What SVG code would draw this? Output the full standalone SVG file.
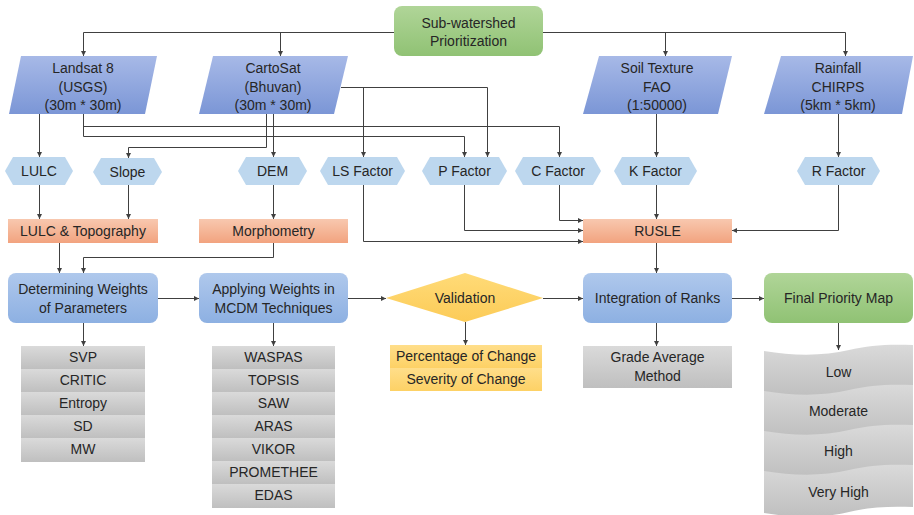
<svg xmlns="http://www.w3.org/2000/svg" width="914" height="515" viewBox="0 0 914 515">
<style>
text{font-family:"Liberation Sans",Arial,sans-serif;font-size:14px;fill:#262626;text-anchor:middle}
.ln{fill:none;stroke:#404040;stroke-width:1}
.hex{fill:#BDD7EE}
</style>
<defs>
<linearGradient id="gPara" x1="0" y1="0" x2="0" y2="1"><stop offset="0" stop-color="#A7B9E7"/><stop offset="1" stop-color="#7B96D6"/></linearGradient>
<linearGradient id="gBlue" x1="0" y1="0" x2="0" y2="1"><stop offset="0" stop-color="#AFC8EC"/><stop offset="1" stop-color="#8DB0E2"/></linearGradient>
<linearGradient id="gGreen" x1="0" y1="0" x2="0" y2="1"><stop offset="0" stop-color="#B0D598"/><stop offset="1" stop-color="#90C274"/></linearGradient>
<linearGradient id="gOrange" x1="0" y1="0" x2="0" y2="1"><stop offset="0" stop-color="#F8C8AF"/><stop offset="1" stop-color="#F2A37F"/></linearGradient>
<linearGradient id="gGray" x1="0" y1="0" x2="0" y2="1"><stop offset="0" stop-color="#DADADA"/><stop offset="1" stop-color="#BFBFBF"/></linearGradient>
<linearGradient id="gYellow" x1="0" y1="0" x2="0" y2="1"><stop offset="0" stop-color="#FFDE8A"/><stop offset="1" stop-color="#FDD165"/></linearGradient>
<linearGradient id="gDia" x1="0" y1="0" x2="0" y2="1"><stop offset="0" stop-color="#FFDB78"/><stop offset="1" stop-color="#FCCB57"/></linearGradient>
<marker id="ah" viewBox="0 0 6 6" refX="6" refY="3" markerWidth="5" markerHeight="5" orient="auto" markerUnits="userSpaceOnUse"><path d="M0,0 L6,3 L0,6 z" fill="#404040"/></marker>
<path id="band" d="M0,6 C30,11 60,11 85,5 C105,0 125,-1 149,0 L149,42 C125,41 105,42 85,47 C60,53 30,53 0,48 Z"/>
</defs>

<g id="connectors">
<path class="ln" d="M394,32.5 H83.5 V56" marker-end="url(#ah)"/>
<path class="ln" d="M280.5,32.5 V56" marker-end="url(#ah)"/>
<path class="ln" d="M543,32.5 H845.5 V56" marker-end="url(#ah)"/>
<path class="ln" d="M665.5,32.5 V56" marker-end="url(#ah)"/>
<path class="ln" d="M39.5,114 V157" marker-end="url(#ah)"/>
<path class="ln" d="M83.5,114 V136.5 H464.5 V157" marker-end="url(#ah)"/>
<path class="ln" d="M83.5,126.5 H559.5 V157" marker-end="url(#ah)"/>
<path class="ln" d="M341,87.5 H487.5 V157" marker-end="url(#ah)"/>
<path class="ln" d="M363.5,87.5 V157" marker-end="url(#ah)"/>
<path class="ln" d="M273.5,114 V157" marker-end="url(#ah)"/>
<path class="ln" d="M266.5,114 V147.5 H128.5 V158" marker-end="url(#ah)"/>
<path class="ln" d="M656.5,114 V157" marker-end="url(#ah)"/>
<path class="ln" d="M838.5,114 V157" marker-end="url(#ah)"/>
<path class="ln" d="M39.5,185 V219" marker-end="url(#ah)"/>
<path class="ln" d="M128.5,185 V219" marker-end="url(#ah)"/>
<path class="ln" d="M273.5,185 V219" marker-end="url(#ah)"/>
<path class="ln" d="M363.5,185 V241.5 H583" marker-end="url(#ah)"/>
<path class="ln" d="M464.5,185 V230.5 H583" marker-end="url(#ah)"/>
<path class="ln" d="M559.5,185 V220.5 H583" marker-end="url(#ah)"/>
<path class="ln" d="M656.5,185 V219" marker-end="url(#ah)"/>
<path class="ln" d="M838.5,185 V230.5 H732" marker-end="url(#ah)"/>
<path class="ln" d="M59.5,243 V273" marker-end="url(#ah)"/>
<path class="ln" d="M273.5,243 V257.5 H83.5 V273" marker-end="url(#ah)"/>
<path class="ln" d="M656.5,243 V273" marker-end="url(#ah)"/>
<path class="ln" d="M158,298.5 H199" marker-end="url(#ah)"/>
<path class="ln" d="M348,298.5 H386" marker-end="url(#ah)"/>
<path class="ln" d="M543,298.5 H583" marker-end="url(#ah)"/>
<path class="ln" d="M732,298.5 H764" marker-end="url(#ah)"/>
<path class="ln" d="M83.5,323 V346" marker-end="url(#ah)"/>
<path class="ln" d="M273.5,323 V346" marker-end="url(#ah)"/>
<path class="ln" d="M465.5,322 V345" marker-end="url(#ah)"/>
<path class="ln" d="M656.5,323 V346" marker-end="url(#ah)"/>
<path class="ln" d="M838.5,323 V350" marker-end="url(#ah)"/>
</g>

<g id="subwatershed">
<rect x="394" y="6" width="149" height="50" rx="8" fill="url(#gGreen)"/>
<text x="468.5" y="28">Sub-watershed</text>
<text x="468.5" y="46">Prioritization</text>
</g>

<g id="landsat">
<polygon points="21,56 157,56 145,114 9,114" fill="url(#gPara)"/>
<text x="83" y="73">Landsat 8</text>
<text x="83" y="92">(USGS)</text>
<text x="83" y="110">(30m * 30m)</text>
</g>
<g id="cartosat">
<polygon points="213,56 348,56 334,114 199,114" fill="url(#gPara)"/>
<text x="273" y="73">CartoSat</text>
<text x="273" y="92">(Bhuvan)</text>
<text x="273" y="110">(30m * 30m)</text>
</g>
<g id="soil">
<polygon points="599,56 732,56 718,114 583,114" fill="url(#gPara)"/>
<text x="657" y="73">Soil Texture</text>
<text x="657" y="92">FAO</text>
<text x="657" y="110">(1:50000)</text>
</g>
<g id="rainfall">
<polygon points="781,56 913,56 902,114 764,114" fill="url(#gPara)"/>
<text x="838" y="73">Rainfall</text>
<text x="838" y="92">CHIRPS</text>
<text x="838" y="110">(5km * 5km)</text>
</g>

<g id="lulc"><polygon class="hex" points="5,171 13,157 65,157 73,171 65,185 13,185"/><text x="39" y="176">LULC</text></g>
<g id="slope"><polygon class="hex" points="93,172 101,158 154,158 162,172 154,185 101,185"/><text x="127.5" y="177">Slope</text></g>
<g id="dem"><polygon class="hex" points="238,171 246,157 299,157 307,171 299,185 246,185"/><text x="272.5" y="176">DEM</text></g>
<g id="lsfactor"><polygon class="hex" points="320,171 328,157 397,157 405,171 397,185 328,185"/><text x="362.5" y="176">LS Factor</text></g>
<g id="pfactor"><polygon class="hex" points="422,171 430,157 499,157 507,171 499,185 430,185"/><text x="464.5" y="176">P Factor</text></g>
<g id="cfactor"><polygon class="hex" points="515,171 523,157 593,157 601,171 593,185 523,185"/><text x="558" y="176">C Factor</text></g>
<g id="kfactor"><polygon class="hex" points="614,171 622,157 689,157 697,171 689,185 622,185"/><text x="655.5" y="176">K Factor</text></g>
<g id="rfactor"><polygon class="hex" points="797,171 805,157 872,157 880,171 872,185 805,185"/><text x="838.5" y="176">R Factor</text></g>

<g id="lulctopo"><rect x="8" y="219" width="150" height="24" fill="url(#gOrange)"/><text x="83" y="236">LULC &amp; Topography</text></g>
<g id="morphometry"><rect x="199" y="219" width="149" height="24" fill="url(#gOrange)"/><text x="273.5" y="236">Morphometry</text></g>
<g id="rusle"><rect x="583" y="219" width="149" height="24" fill="url(#gOrange)"/><text x="657.5" y="236">RUSLE</text></g>

<g id="determining"><rect x="8" y="273" width="150" height="50" rx="8" fill="url(#gBlue)"/><text x="83" y="294">Determining Weights</text><text x="83" y="313">of Parameters</text></g>
<g id="applying"><rect x="199" y="273" width="149" height="50" rx="8" fill="url(#gBlue)"/><text x="273.5" y="294">Applying Weights in</text><text x="273.5" y="313">MCDM Techniques</text></g>
<g id="validation"><polygon points="386,298 465,273 543,298 465,322" fill="url(#gDia)"/><text x="465" y="303">Validation</text></g>
<g id="integration"><rect x="583" y="273" width="149" height="50" rx="8" fill="url(#gBlue)"/><text x="657.5" y="303">Integration of Ranks</text></g>
<g id="finalmap"><rect x="764" y="273" width="149" height="50" rx="8" fill="url(#gGreen)"/><text x="838.5" y="303">Final Priority Map</text></g>

<g id="weights-list">
<rect x="21" y="346" width="124" height="23" fill="url(#gGray)"/><text x="83" y="362">SVP</text>
<rect x="21" y="369" width="124" height="23" fill="url(#gGray)"/><text x="83" y="385">CRITIC</text>
<rect x="21" y="392" width="124" height="23" fill="url(#gGray)"/><text x="83" y="408">Entropy</text>
<rect x="21" y="415" width="124" height="23" fill="url(#gGray)"/><text x="83" y="431">SD</text>
<rect x="21" y="438" width="124" height="24" fill="url(#gGray)"/><text x="83" y="454">MW</text>
</g>
<g id="mcdm-list">
<rect x="212" y="346" width="123" height="23" fill="url(#gGray)"/><text x="273.5" y="362">WASPAS</text>
<rect x="212" y="369" width="123" height="23" fill="url(#gGray)"/><text x="273.5" y="385">TOPSIS</text>
<rect x="212" y="392" width="123" height="23" fill="url(#gGray)"/><text x="273.5" y="408">SAW</text>
<rect x="212" y="415" width="123" height="23" fill="url(#gGray)"/><text x="273.5" y="431">ARAS</text>
<rect x="212" y="438" width="123" height="23" fill="url(#gGray)"/><text x="273.5" y="454">VIKOR</text>
<rect x="212" y="461" width="123" height="23" fill="url(#gGray)"/><text x="273.5" y="477">PROMETHEE</text>
<rect x="212" y="484" width="123" height="24" fill="url(#gGray)"/><text x="273.5" y="500">EDAS</text>
</g>
<g id="validation-list">
<rect x="390" y="345" width="152" height="23" fill="url(#gYellow)"/><text x="466" y="361">Percentage of Change</text>
<rect x="390" y="368" width="152" height="23" fill="url(#gYellow)"/><text x="466" y="384">Severity of Change</text>
</g>
<g id="grade"><rect x="583" y="346" width="149" height="42" fill="url(#gGray)"/><text x="657.5" y="362">Grade Average</text><text x="657.5" y="381">Method</text></g>

<g id="priority-classes">
<use href="#band" transform="translate(764,345)" fill="url(#gGray)"/><text x="838.5" y="377">Low</text>
<use href="#band" transform="translate(764,385)" fill="url(#gGray)"/><text x="838.5" y="416">Moderate</text>
<use href="#band" transform="translate(764,425)" fill="url(#gGray)"/><text x="838.5" y="456">High</text>
<use href="#band" transform="translate(764,465)" fill="url(#gGray)"/><text x="838.5" y="497">Very High</text>
</g>
</svg>
